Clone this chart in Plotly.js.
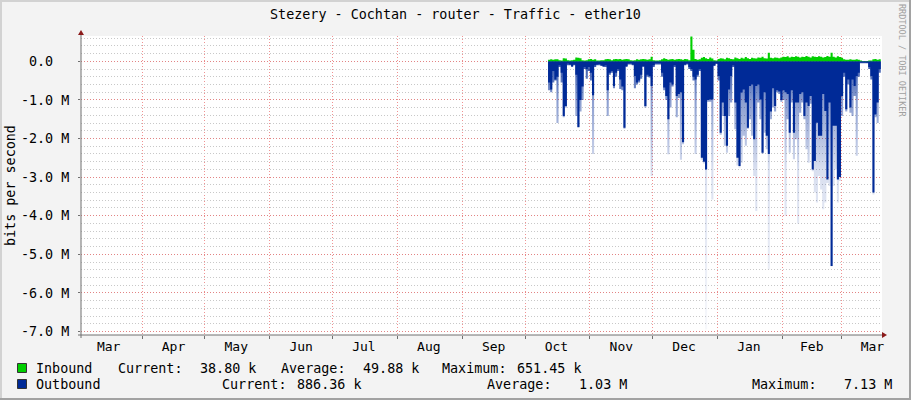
<!DOCTYPE html>
<html>
<head>
<meta charset="utf-8">
<script src="https://cdn.plot.ly/plotly-3.0.1.min.js"></script>
<style>
  html, body { margin: 0; padding: 0; background: #f3f3f3; }
  #chart { width: 911px; height: 400px; }
</style>
</head>
<body>
<div id="chart"></div>
<script>
// daily samples, first one on 2014-10-12, values in Mbit/s (outbound drawn below zero)
var startDay = "2014-10-12";

var inbound = [
  0.04,0.05,0.04,0.05,0.05,0.03,0.02,0.08,0.07,0.03,
  0.02,0.03,0.04,0.10,0.09,0.08,0.03,0.02,0.03,0.05,
  0.06,0.04,0.05,0.02,0.02,0.03,0.03,0.05,0.06,0.05,
  0.03,0.05,0.06,0.05,0.06,0.04,0.05,0.06,0.05,0.03,
  0.02,0.03,0.05,0.04,0.05,0.06,0.05,0.04,0.05,0.12,
  0.03,0.02,0.02,0.03,0.05,0.08,0.06,0.04,0.05,0.06,
  0.04,0.05,0.06,0.05,0.04,0.06,0.05,0.03,0.64,0.30,
  0.06,0.04,0.05,0.09,0.11,0.08,0.06,0.10,0.07,0.03,
  0.02,0.06,0.08,0.07,0.05,0.09,0.08,0.06,0.05,0.10,
  0.08,0.06,0.09,0.07,0.11,0.08,0.06,0.09,0.08,0.07,
  0.10,0.09,0.12,0.08,0.07,0.22,0.09,0.08,0.10,0.09,
  0.08,0.10,0.12,0.11,0.13,0.10,0.12,0.11,0.13,0.12,
  0.10,0.12,0.11,0.14,0.12,0.10,0.13,0.12,0.11,0.13,
  0.12,0.10,0.11,0.14,0.12,0.22,0.12,0.10,0.13,0.11,
  0.09,0.05,0.04,0.04,0.05,0.04,0.04,0.05,0.04,0.02,
  0.01,0.01,0.01,0.02,0.02,0.05,0.06,0.04,0.05,0.04
];

var outboundAvg = [
  -0.55,-0.73,-0.25,-0.47,-0.40,-0.10,-0.30,-1.42,-1.16,-0.06,
  -0.08,-0.12,-0.08,-0.35,-1.70,-1.00,-0.65,-0.15,-0.20,-0.15,
  -0.30,-0.88,-0.10,-0.08,-0.07,-0.10,-0.12,-0.10,-0.75,-0.30,
  -0.25,-0.64,-0.30,-0.20,-0.47,-0.65,-1.72,-0.12,-0.06,-0.05,
  -0.08,-0.38,-0.55,-0.50,-0.35,-0.12,-1.16,-0.35,-0.38,-0.64,
  -0.10,-0.05,-0.05,-0.05,-0.30,-0.68,-0.90,-1.50,-0.55,-0.60,
  -0.10,-0.90,-0.85,-0.80,-2.10,-0.08,-0.06,-0.15,-0.20,-0.40,
  -0.47,-0.35,-0.20,-2.50,-2.60,-2.80,-1.00,-0.99,-0.99,-0.10,
  -0.05,-0.38,-1.85,-1.07,-1.42,-2.19,-0.73,-0.38,-0.10,-1.07,
  -2.50,-2.71,-0.81,-0.73,-1.07,-1.72,-0.64,-0.60,-2.02,-0.64,
  -0.60,-0.99,-2.37,-0.80,-1.93,-2.40,-1.30,-0.70,-1.16,-0.75,
  -0.78,-1.00,-0.75,-0.80,-0.85,-1.85,-0.75,-1.85,-1.07,-1.07,
  -0.85,-0.80,-1.42,-1.07,-1.16,-0.90,-2.80,-2.58,-1.59,-1.93,
  -1.93,-0.85,-1.29,-3.06,-1.07,-5.30,-1.67,-1.67,-3.06,-3.00,
  -0.90,-0.30,-1.24,-0.47,-1.20,-0.47,-0.64,-0.38,-0.30,-0.03,
  -0.03,-0.03,-0.04,-0.15,-0.38,-3.40,-1.38,-1.07,-0.20,-0.10
];

var outboundMax = [
  -0.75,-0.80,-0.55,-0.50,-1.60,-0.15,-0.55,-1.45,-1.20,-0.10,
  -0.10,-0.15,-0.10,-1.42,-1.72,-1.30,-1.00,-0.20,-0.45,-0.25,
  -0.50,-2.40,-0.15,-0.10,-0.10,-0.12,-0.15,-0.15,-1.42,-0.35,
  -0.30,-0.70,-0.40,-0.25,-0.72,-0.75,-1.75,-0.15,-0.08,-0.08,
  -0.10,-0.70,-0.60,-0.55,-0.45,-0.15,-1.20,-0.40,-0.42,-2.97,
  -0.15,-0.08,-0.08,-0.08,-0.40,-0.75,-1.00,-2.41,-1.20,-0.65,
  -0.15,-1.45,-0.95,-2.55,-2.15,-0.10,-0.08,-0.20,-0.25,-0.50,
  -2.40,-0.40,-0.25,-2.55,-2.65,-6.95,-1.05,-1.05,-3.58,-0.12,
  -0.07,-0.50,-1.90,-1.42,-2.19,-2.37,-1.42,-1.07,-0.15,-1.76,
  -2.70,-2.75,-2.63,-1.93,-2.19,-1.75,-1.50,-1.93,-2.97,-3.88,
  -1.07,-1.50,-2.40,-1.85,-2.28,-5.39,-1.50,-1.20,-1.30,-0.80,
  -0.85,-1.05,-1.00,-4.00,-1.50,-2.37,-1.07,-2.54,-2.02,-4.20,
  -1.33,-1.07,-1.50,-2.28,-2.63,-1.10,-2.85,-3.40,-3.66,-2.97,
  -3.32,-3.83,-3.66,-3.15,-3.23,-5.32,-3.23,-2.80,-3.66,-3.10,
  -1.42,-0.40,-1.30,-0.60,-1.33,-1.42,-0.90,-2.45,-0.40,-0.05,
  -0.05,-0.05,-0.05,-0.20,-0.47,-3.45,-1.45,-1.60,-0.30,-0.10
];

var monthStarts = ["2014-04-01","2014-05-01","2014-06-01","2014-07-01","2014-08-01","2014-09-01",
                   "2014-10-01","2014-11-01","2014-12-01","2015-01-01","2015-02-01","2015-03-01"];
var monthLabelDays = ["2014-03-16","2014-04-16","2014-05-16","2014-06-16","2014-07-16","2014-08-16",
                      "2014-09-16","2014-10-16","2014-11-16","2014-12-16","2015-01-16","2015-02-15","2015-03-16"];
var monthNames = ["Mar","Apr","May","Jun","Jul","Aug","Sep","Oct","Nov","Dec","Jan","Feb","Mar"];

var yTickVals = [0, -1, -2, -3, -4, -5, -6, -7];
var yTickText = ["0.0\u00a0\u00a0", "-1.0 M", "-2.0 M", "-3.0 M", "-4.0 M", "-5.0 M", "-6.0 M", "-7.0 M"];

var inStats = ["38.80 k", "49.88 k", "651.45 k"];
var outStats = ["886.36 k", "1.03 M", "7.13 M"];

var days = [];
var d0 = new Date(startDay + "T00:00:00Z");
for (var i = 0; i < inbound.length; i++) {
  days.push(new Date(d0.getTime() + i * 86400000).toISOString().slice(0, 10));
}

var BLUE = "#002A97", GREEN = "#00CF00";
var mono = "DejaVu Sans Mono";

// pixel -> paper helpers (plot area is 81..882 x 36..335)
var L = 81, R = 29, T = 36, B = 65, W = 911, H = 400;
function px(x) { return (x - L) / (W - L - R); }
function py(y) { return (H - B - y) / (H - T - B); }

var traces = [
  { type: "scatter", mode: "lines", x: days, y: outboundMax,
    line: {width: 0, shape: "hv"}, fill: "tozeroy",
    fillcolor: "rgba(0,42,151,0.25)",
    fillgradient: {type: "vertical", start: -7, stop: 0,
      colorscale: [[0, "rgba(0,42,151,0.03)"], [0.6, "rgba(0,42,151,0.15)"],
                   [0.85, "rgba(0,42,151,0.45)"], [1, "rgba(0,42,151,0.8)"]]},
    hoverinfo: "skip", showlegend: false },
  { type: "scatter", mode: "lines", x: days, y: outboundAvg,
    line: {width: 0, shape: "hv"}, fill: "tozeroy", fillcolor: BLUE,
    hoverinfo: "skip", showlegend: false },
  { type: "scatter", mode: "lines", x: days, y: inbound,
    line: {width: 0, shape: "hv"}, fill: "tozeroy", fillcolor: GREEN,
    hoverinfo: "skip", showlegend: false }
];

function txt(x, y, s, opts) {
  var a = {xref: "paper", yref: "paper", x: px(x), y: py(y), text: s, showarrow: false,
           xanchor: "left", yanchor: "middle", font: {family: mono, size: 13.4, color: "#000"}};
  for (var k in opts) a[k] = opts[k];
  return a;
}

var annotations = [
  txt(10, 186, "bits per second", {xanchor: "center", textangle: -90}),
  txt(902, 60, "RRDTOOL / TOBI OETIKER", {xanchor: "center", textangle: 90,
       font: {family: mono, size: 8.5, color: "#a0a0a0"}}),
  txt(34, 368, "Inbound"),
  txt(116, 368, "Current:"),
  txt(258, 368, inStats[0], {xanchor: "right"}),
  txt(279, 368, "Average:"),
  txt(421, 368, inStats[1], {xanchor: "right"}),
  txt(440, 368, "Maximum:"),
  txt(584, 368, inStats[2], {xanchor: "right"}),
  txt(34, 384, "Outbound"),
  txt(220, 384, "Current:"),
  txt(364, 384, outStats[0], {xanchor: "right"}),
  txt(485, 384, "Average:"),
  txt(629, 384, outStats[1], {xanchor: "right"}),
  txt(750, 384, "Maximum:"),
  txt(894, 384, outStats[2], {xanchor: "right"})
];

function rect(x0, y0, x1, y1, fill, line) {
  return {type: "rect", xref: "paper", yref: "paper", x0: px(x0), x1: px(x1), y0: py(y0), y1: py(y1),
          fillcolor: fill, line: {width: line ? 1 : 0, color: line || fill}, layer: "above"};
}
function path(d, color) {
  return {type: "path", xref: "paper", yref: "paper", path: d, fillcolor: color,
          line: {width: 0}, layer: "above"};
}
function tri(pts) {
  return "M " + pts.map(function (p) { return px(p[0]) + "," + py(p[1]); }).join(" L ") + " Z";
}

var shapes = [
  rect(0, 0, 911, 2, "#d2d2d2"),
  rect(0, 0, 2, 400, "#d2d2d2"),
  rect(909, 0, 911, 400, "#a2a2a2"),
  rect(0, 398, 911, 400, "#a2a2a2"),
  rect(17.5, 363.5, 26.5, 372.5, GREEN, "#333"),
  rect(17.5, 379.5, 26.5, 388.5, BLUE, "#333"),
  {type: "line", xref: "paper", yref: "paper", x0: px(81), x1: px(81), y0: py(33), y1: py(338),
   line: {color: "#707070", width: 1}, layer: "above"},
  {type: "line", xref: "paper", yref: "paper", x0: px(78), x1: px(884), y0: py(335), y1: py(335),
   line: {color: "#707070", width: 1}, layer: "above"},
  path(tri([[78, 35], [84, 35], [81, 30]]), "#8b1a1a"),
  path(tri([[882, 332], [882, 338], [887, 335]]), "#8b1a1a")
];

var layout = {
  width: 911, height: 400,
  margin: {l: L, r: R, t: T, b: B},
  paper_bgcolor: "#f3f3f3",
  plot_bgcolor: "#ffffff",
  font: {family: mono, size: 13.4, color: "#000"},
  title: {text: "Stezery - Cochtan - router - Traffic - ether10", x: 0.5, xanchor: "center",
          y: 1 - 14 / 400, yanchor: "middle", font: {family: mono, size: 13.4, color: "#000"}},
  showlegend: false,
  hovermode: false,
  xaxis: {
    type: "date",
    range: ["2014-03-02 19:00", "2015-03-20 14:00"],
    tickmode: "array", tickvals: monthLabelDays, ticktext: monthNames,
    ticks: "", showgrid: false, zeroline: false, showline: false,
    ticklabelstandoff: 2,
    tickfont: {family: mono, size: 13, color: "#000"},
    minor: {tickmode: "array", tickvals: monthStarts, showgrid: true,
            gridcolor: "rgba(235,110,110,0.75)", griddash: "1px,2px", gridwidth: 1,
            ticks: "outside", ticklen: 3, tickcolor: "#707070"}
  },
  yaxis: {
    range: [-7.09, 0.655],
    tickmode: "array", tickvals: yTickVals, ticktext: yTickText,
    ticks: "outside", ticklen: 2, tickcolor: "#707070",
    showgrid: true, gridcolor: "rgba(235,110,110,0.75)", griddash: "1px,2px", gridwidth: 1,
    zeroline: false, showline: false,
    ticklabelstandoff: 6,
    tickfont: {family: mono, size: 13.4, color: "#000"},
    minor: {tickmode: "linear", tick0: 0, dtick: 0.2, showgrid: true,
            gridcolor: "#c8c8c8", griddash: "1px,2px", gridwidth: 1}
  },
  annotations: annotations,
  shapes: shapes
};

Plotly.newPlot("chart", traces, layout, {displayModeBar: false, staticPlot: true});
</script>
</body>
</html>
